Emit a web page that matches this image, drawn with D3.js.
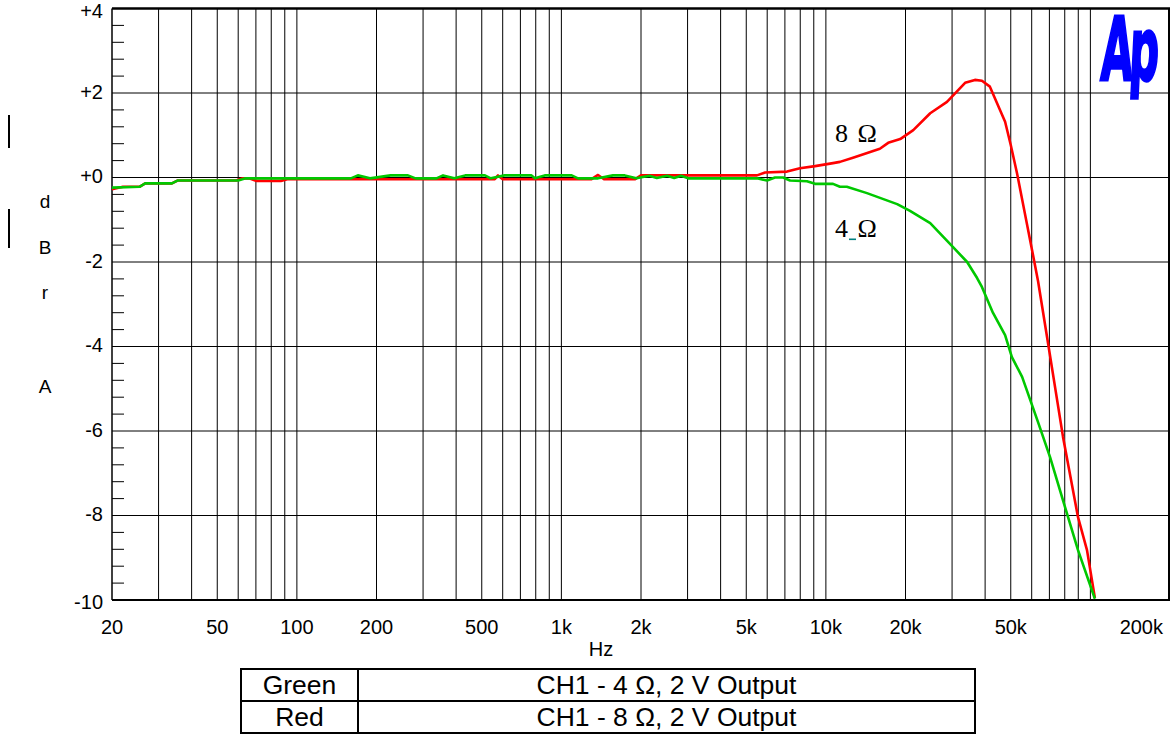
<!DOCTYPE html>
<html>
<head>
<meta charset="utf-8">
<script src="https://cdn.jsdelivr.net/npm/d3@7"></script>
<style>
  html, body { margin: 0; padding: 0; background: #fff; }
  svg { display: block; }
  text { font-family: "Liberation Sans", Arial, sans-serif; fill: #000; }
</style>
</head>
<body>
<svg id="chart" width="1171" height="734"></svg>
<script>
// ---------------- DATA ----------------
const greenFreq = [20, 25.4, 26.7, 33.7, 35.5, 60, 64, 160, 170, 189, 226, 263, 281, 337, 357, 394, 433, 514, 541, 610, 771, 794, 865, 1094, 1156, 1376, 1567, 1736, 1920, 2150, 2295, 2514, 2670, 2835, 3016, 5490, 5990, 6420, 6890, 7320, 8480, 9100, 10640, 11300, 12000, 14300, 18600, 20800, 24800, 30200, 34200, 37300, 38900, 42800, 47600, 50500, 55200, 63400, 70400, 80200, 89800, 104000];
const greenDb   = [-0.24, -0.22, -0.14, -0.14, -0.07, -0.07, -0.02, -0.02, 0.05, -0.02, 0.05, 0.05, -0.02, -0.02, 0.05, -0.02, 0.05, 0.05, -0.02, 0.05, 0.05, -0.02, 0.05, 0.05, -0.02, -0.02, 0.05, 0.05, -0.02, 0.04, -0.01, 0.04, -0.01, 0.04, -0.02, -0.02, -0.07, 0.0, 0.0, -0.07, -0.09, -0.15, -0.15, -0.22, -0.22, -0.37, -0.63, -0.79, -1.08, -1.64, -2.0, -2.38, -2.59, -3.2, -3.73, -4.25, -4.72, -5.79, -6.62, -7.8, -8.82, -9.97];

const redFreq = [20, 22, 25.4, 26.7, 33.7, 35.5, 59, 62, 66, 70, 87, 92, 480, 560, 576, 600, 1300, 1376, 1450, 1900, 2000, 3016, 5490, 5890, 7130, 7980, 9100, 10640, 11300, 12660, 16000, 17200, 19100, 21400, 24800, 28700, 32100, 33600, 36600, 38900, 41700, 47600, 50000, 52800, 60200, 63400, 68600, 78800, 89800, 97100, 104000];
const redDb   = [-0.28, -0.22, -0.22, -0.14, -0.14, -0.07, -0.07, -0.02, -0.02, -0.08, -0.08, -0.04, -0.04, -0.04, 0.05, -0.04, -0.04, 0.06, -0.04, -0.04, 0.05, 0.05, 0.05, 0.12, 0.14, 0.22, 0.27, 0.34, 0.37, 0.47, 0.68, 0.82, 0.91, 1.12, 1.52, 1.79, 2.11, 2.24, 2.31, 2.29, 2.15, 1.32, 0.77, 0.10, -1.72, -2.45, -3.78, -6.14, -8.04, -8.82, -9.95];

const xTickValues = [20, 50, 100, 200, 500, 1000, 2000, 5000, 10000, 20000, 50000, 200000];
const xTickLabels = ["20", "50", "100", "200", "500", "1k", "2k", "5k", "10k", "20k", "50k", "200k"];
const yTickValues = [4, 2, 0, -2, -4, -6, -8, -10];
const yTickLabels = ["+4", "+2", "+0", "-2", "-4", "-6", "-8", "-10"];
const yTitleLetters = ["d", "B", "r", "A"];
const legendNames = ["Green", "Red"];
const legendTexts = ["CH1 - 4 \u03A9, 2 V Output", "CH1 - 8 \u03A9, 2 V Output"];
const curveLabels = ["8 \u03A9", "4 \u03A9"];

// ---------------- LAYOUT ----------------
const svg = d3.select("#chart");
const L = 112, R = 1170, T = 8.5, B = 600;
const x = d3.scaleLog().domain([20, 200000]).range([L, R]);
const y = d3.scaleLinear().domain([-10, 4]).range([B, T]);

// vertical grid lines (30 .. 100k)
const vgrid = [];
[10, 100, 1000, 10000, 100000].forEach(dec => {
  for (let m = 1; m <= 9; m++) {
    const v = dec * m;
    if (v > 20 && v <= 100000) vgrid.push(v);
  }
});
svg.append("g").selectAll("line").data(vgrid).join("line")
  .attr("x1", d => x(d)).attr("x2", d => x(d))
  .attr("y1", T).attr("y2", B)
  .attr("stroke", "#000").attr("stroke-width", 1);

// horizontal grid lines
svg.append("g").selectAll("line").data([2, 0, -2, -4, -6, -8]).join("line")
  .attr("x1", L).attr("x2", R)
  .attr("y1", d => y(d)).attr("y2", d => y(d))
  .attr("stroke", "#000").attr("stroke-width", 1);

// minor ticks on left axis (0.4 dB)
const minor = d3.range(-10, 4.001, 0.4).map(v => Math.round(v * 10) / 10)
  .filter(v => Math.abs(v % 2) > 0.01);
svg.append("g").selectAll("line").data(minor).join("line")
  .attr("x1", L).attr("x2", L + 12)
  .attr("y1", d => y(d)).attr("y2", d => y(d))
  .attr("stroke", "#000").attr("stroke-width", 1);

// frame
svg.append("line").attr("x1", L).attr("x2", R).attr("y1", T).attr("y2", T).attr("stroke", "#000").attr("stroke-width", 2.5);
svg.append("line").attr("x1", L).attr("x2", R).attr("y1", B).attr("y2", B).attr("stroke", "#000").attr("stroke-width", 2);
svg.append("line").attr("x1", L).attr("x2", L).attr("y1", T).attr("y2", B).attr("stroke", "#000").attr("stroke-width", 1.5);
svg.append("line").attr("x1", R - 1).attr("x2", R - 1).attr("y1", T).attr("y2", B).attr("stroke", "#000").attr("stroke-width", 2);

// clip
svg.append("clipPath").attr("id", "clip").append("rect")
  .attr("x", L).attr("y", T).attr("width", R - L).attr("height", B - T);

const line = d3.line().x(d => x(d[0])).y(d => y(d[1]));
const redPts = redFreq.map((f, i) => [f, redDb[i]]);
const greenPts = greenFreq.map((f, i) => [f, greenDb[i]]);

svg.append("path").datum(redPts).attr("d", line)
  .attr("fill", "none").attr("stroke", "#ff0000").attr("stroke-width", 2.6)
  .attr("stroke-linejoin", "round").attr("clip-path", "url(#clip)");
svg.append("path").datum(greenPts).attr("d", line)
  .attr("fill", "none").attr("stroke", "#00c800").attr("stroke-width", 2.6)
  .attr("stroke-linejoin", "round").attr("clip-path", "url(#clip)");

// y tick labels
svg.append("g").selectAll("text").data(yTickValues).join("text")
  .attr("x", 103)
  .attr("y", (d) => d === 4 ? 18 : (d === -10 ? 609 : y(d) + 5.6))
  .attr("text-anchor", "end").attr("font-size", 20)
  .text((d, i) => yTickLabels[i]);

// x tick labels
svg.append("g").selectAll("text").data(xTickValues).join("text")
  .attr("x", d => d === 200000 ? 1163 : x(d))
  .attr("y", 634)
  .attr("text-anchor", d => d === 200000 ? "end" : "middle")
  .attr("font-size", 20)
  .text((d, i) => xTickLabels[i]);

// axis titles
svg.append("text").attr("x", 601).attr("y", 656).attr("text-anchor", "middle").attr("font-size", 20).text("Hz");
const titleY = [208, 254, 299, 393];
svg.append("g").selectAll("text").data(yTitleLetters).join("text")
  .attr("x", 45).attr("y", (d, i) => titleY[i])
  .attr("text-anchor", "middle").attr("font-size", 19).text(d => d);
svg.append("rect").attr("x", 8).attr("y", 115).attr("width", 2).attr("height", 33).attr("fill", "#000");
svg.append("rect").attr("x", 8).attr("y", 209).attr("width", 2).attr("height", 39).attr("fill", "#000");

// curve annotations
svg.append("text").attr("x", 835).attr("y", 142).attr("font-size", 26).attr("word-spacing", 3)
  .style("font-family", "'Liberation Serif', 'Times New Roman', serif").text(curveLabels[0]);
svg.append("text").attr("x", 835).attr("y", 237).attr("font-size", 26).attr("word-spacing", 3)
  .style("font-family", "'Liberation Serif', 'Times New Roman', serif").text(curveLabels[1]);
svg.append("rect").attr("x", 849).attr("y", 238.5).attr("width", 7).attr("height", 1.6).attr("fill", "#008080");

// Ap logo
svg.append("text")
  .attr("transform", "translate(1100,80) scale(0.94,2) skewX(-6)")
  .attr("font-size", 44).attr("font-weight", "bold")
  .attr("letter-spacing", -4)
  .style("fill", "#0000ff").style("stroke", "#0000ff").style("stroke-width", 1.5)
  .style("font-family", "'DejaVu Sans', 'Liberation Sans', sans-serif")
  .text("Ap");

// legend table
const tL = 241, tR = 975, tT = 669, tM = 701, tB = 733, tC = 358;
svg.append("rect").attr("x", tL).attr("y", tT).attr("width", tR - tL).attr("height", tB - tT)
  .attr("fill", "none").attr("stroke", "#000").attr("stroke-width", 2);
svg.append("line").attr("x1", tL).attr("x2", tR).attr("y1", tM).attr("y2", tM).attr("stroke", "#000").attr("stroke-width", 2);
svg.append("line").attr("x1", tC).attr("x2", tC).attr("y1", tT).attr("y2", tB).attr("stroke", "#000").attr("stroke-width", 2);
const rowBase = [694, 726];
svg.append("g").selectAll("text").data(legendNames).join("text")
  .attr("x", (tL + tC) / 2).attr("y", (d, i) => rowBase[i])
  .attr("text-anchor", "middle").attr("font-size", 26.5).text(d => d);
svg.append("g").selectAll("text").data(legendTexts).join("text")
  .attr("x", (tC + tR) / 2).attr("y", (d, i) => rowBase[i])
  .attr("text-anchor", "middle").attr("font-size", 26.5).text(d => d);
</script>
</body>
</html>
